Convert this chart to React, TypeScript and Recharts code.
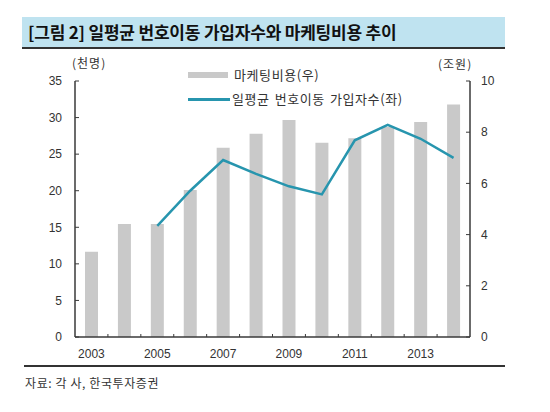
import React from 'react';
import { ComposedChart, Bar, Line, XAxis, YAxis } from 'recharts';

const years = ['2003', '2004', '2005', '2006', '2007', '2008', '2009', '2010', '2011', '2012', '2013', '2014'];
const marketingCost = [3.33, 4.41, 4.41, 5.74, 7.39, 7.94, 8.48, 7.59, 7.76, 8.2, 8.4, 9.08];
const dailySubscribers = [null, null, 15.2, 20.0, 24.2, 22.3, 20.6, 19.5, 26.9, 29.0, 27.1, 24.5];
const leftTicks = [0, 5, 10, 15, 20, 25, 30, 35];
const rightTicks = [0, 2, 4, 6, 8, 10];

const data = years.map((y, i) => ({ year: y, cost: marketingCost[i], subs: dailySubscribers[i] }));

const W = 550;
const H = 412;
const LEFT_W = 75;
const RIGHT_W = 80;
const TOP = 81;
const X_AXIS_H = 75;
const PLOT_W = W - LEFT_W - RIGHT_W;
const HALF_BAND = PLOT_W / years.length / 2;
const AXIS_COLOR = '#3a3a3a';
const TEXT_COLOR = '#333';
const KR = '"Noto Sans CJK KR", "Noto Sans", sans-serif';
const NUM = '"Liberation Sans", Arial, sans-serif';

const XTick = (props: any) => {
  const { x, y, payload, index } = props;
  const axisY = H - X_AXIS_H;
  return (
    <g>
      {index < years.length - 1 && (
        <line x1={x + HALF_BAND} x2={x + HALF_BAND} y1={axisY} y2={axisY - 3} stroke={AXIS_COLOR} strokeWidth={1} />
      )}
      {index % 2 === 0 && (
        <text x={x} y={y} dy="0.71em" textAnchor="middle" fontSize={12} fontFamily={NUM} fill={TEXT_COLOR}>
          {payload.value}
        </text>
      )}
    </g>
  );
};

export default function App() {
  return (
    <div style={{ position: 'absolute', left: 0, top: 0, width: W, height: H, background: '#fff', overflow: 'hidden' }}>
      <div style={{ position: 'absolute', left: 22, top: 17, width: 483, height: 30, background: '#bfe3f0' }} />
      <div style={{ position: 'absolute', left: 22, top: 47, width: 483, height: 2, background: '#333' }} />
      <div
        style={{
          position: 'absolute',
          left: 28,
          top: 17,
          height: 30,
          lineHeight: '30px',
          fontFamily: KR,
          fontWeight: 700,
          fontSize: 17,
          letterSpacing: -0.2,
          color: '#111',
          whiteSpace: 'nowrap',
        }}
      >
        [그림 2] 일평균 번호이동 가입자수와 마케팅비용 추이
      </div>

      <ComposedChart
        width={W}
        height={H}
        data={data}
        margin={{ top: TOP, right: 0, bottom: 0, left: 0 }}
        style={{ position: 'absolute', left: 0, top: 0 }}
        barCategoryGap={0}
      >
        <XAxis
          dataKey="year"
          interval={0}
          height={X_AXIS_H}
          tickLine={false}
          tickSize={6}
          tickMargin={6}
          axisLine={{ stroke: AXIS_COLOR, strokeWidth: 1.5 }}
          tick={<XTick />}
        />
        <YAxis
          yAxisId="left"
          orientation="left"
          width={LEFT_W}
          domain={[0, 35]}
          ticks={leftTicks}
          interval={0}
          tickSize={-4}
          tickMargin={17}
          axisLine={{ stroke: AXIS_COLOR, strokeWidth: 1.5 }}
          tickLine={{ stroke: AXIS_COLOR }}
          tick={{ fontSize: 12, fontFamily: NUM, fill: TEXT_COLOR }}
        />
        <YAxis
          yAxisId="right"
          orientation="right"
          width={RIGHT_W}
          domain={[0, 10]}
          ticks={rightTicks}
          interval={0}
          tickSize={-4}
          tickMargin={15}
          axisLine={{ stroke: AXIS_COLOR, strokeWidth: 1.5 }}
          tickLine={{ stroke: AXIS_COLOR }}
          tick={{ fontSize: 12, fontFamily: NUM, fill: TEXT_COLOR }}
        />
        <Bar yAxisId="right" dataKey="cost" fill="#c9c9c9" barSize={13} isAnimationActive={false} />
        <Line
          yAxisId="left"
          dataKey="subs"
          type="linear"
          stroke="#2795ae"
          strokeWidth={2.5}
          dot={false}
          activeDot={false}
          isAnimationActive={false}
        />
      </ComposedChart>

      <div style={{ position: 'absolute', left: 72, top: 55, fontFamily: KR, fontSize: 12, letterSpacing: 1, color: TEXT_COLOR, lineHeight: '16px' }}>
        (천명)
      </div>
      <div style={{ position: 'absolute', left: 438, top: 56, fontFamily: KR, fontSize: 12, letterSpacing: 1, color: TEXT_COLOR, lineHeight: '16px' }}>
        (조원)
      </div>

      <div style={{ position: 'absolute', left: 188, top: 72, width: 40, height: 6, background: '#c9c9c9' }} />
      <div
        style={{ position: 'absolute', left: 234, top: 67, fontFamily: KR, fontSize: 13, letterSpacing: 0.6, color: TEXT_COLOR, lineHeight: '16px', whiteSpace: 'nowrap' }}
      >
        마케팅비용(우)
      </div>
      <div style={{ position: 'absolute', left: 188, top: 98, width: 42, height: 2.5, background: '#2795ae' }} />
      <div
        style={{
          position: 'absolute',
          left: 232,
          top: 91,
          fontFamily: KR,
          fontSize: 13,
          letterSpacing: 0.6,
          wordSpacing: 1.5,
          color: TEXT_COLOR,
          lineHeight: '16px',
          whiteSpace: 'nowrap',
        }}
      >
        일평균 번호이동 가입자수(좌)
      </div>

      <div style={{ position: 'absolute', left: 24, top: 365, width: 481, height: 1.5, background: '#333' }} />
      <div
        style={{ position: 'absolute', left: 25, top: 375, fontFamily: KR, fontSize: 12, letterSpacing: 0.6, color: TEXT_COLOR, lineHeight: '16px', whiteSpace: 'nowrap' }}
      >
        자료: 각 사, 한국투자증권
      </div>
    </div>
  );
}
